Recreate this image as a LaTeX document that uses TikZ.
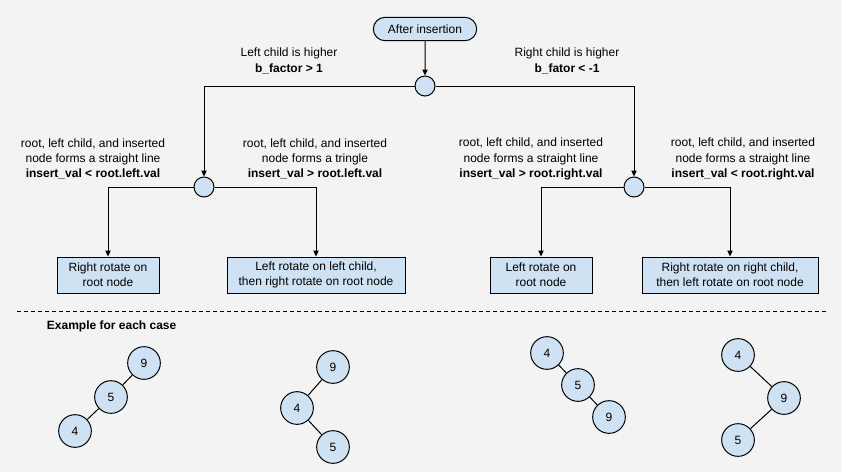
\documentclass[tikz,border=0pt]{standalone}
\usepackage{fontspec}
\setmainfont{Liberation Sans}
\usetikzlibrary{arrows.meta,shapes.misc}
\definecolor{boxblue}{HTML}{CFE2F3}
\definecolor{paper}{HTML}{F3F3F3}

\begin{document}
\begin{tikzpicture}[
  x=0.75pt, y=-0.75pt, line width=0.75pt,
  every node/.style={font=\fontsize{9}{11.5}\selectfont, align=center},
  start/.style={draw, rounded rectangle, fill=boxblue, minimum width=79.5pt, minimum height=17.5pt, inner sep=1pt},
  split/.style={draw, circle, fill=boxblue, minimum size=15pt, inner sep=0pt},
  act/.style={draw, fill=boxblue, minimum height=27pt, inner sep=1pt},
  key/.style={draw, circle, fill=boxblue, minimum size=24.5pt, inner sep=0pt},
  arr/.style={-{Triangle[length=4.5pt,width=4pt]}}
]
\fill[paper] (0,0) rectangle (841,472);
% decision part
\node[start] (ins) at (425,29) {After insertion};
\node[split] (bf) at (425,86) {};
\node (lcase) at (289,61) {Left child is higher\\\textbf{b\_factor > 1}};
\node (rcase) at (567,61) {Right child is higher\\\textbf{b\_fator < -1}};
\node[split] (lh) at (204,187) {};
\node[split] (rh) at (634,187) {};
\node (lltxt) at (93,159) {root, left child, and inserted\\node forms a straight line\\\textbf{insert\_val < root.left.val}};
\node (lrtxt) at (315,159) {root, left child, and inserted\\node forms a tringle\\\textbf{insert\_val > root.left.val}};
\node (rrtxt) at (531,159) {root, left child, and inserted\\node forms a straight line\\\textbf{insert\_val > root.right.val}};
\node (rltxt) at (743,159) {root, left child, and inserted\\node forms a straight line\\\textbf{insert\_val < root.right.val}};
% rotations
\node[act, minimum width=76.5pt] (ll) at (108,275) {Right rotate on\\root node};
\node[act, minimum width=133.5pt] (lr) at (316,275) {Left rotate on left child,\\then right rotate on root node};
\node[act, minimum width=76.5pt] (rr) at (541,275) {Left rotate on\\root node};
\node[act, minimum width=132pt] (rl) at (730,275) {Right rotate on right child,\\then left rotate on root node};
\draw[arr] (ins) -- (bf);
\draw[arr] (bf) -| (lh);
\draw[arr] (bf) -| (rh);
\draw[arr] (lh) -| (ll);
\draw[arr] (lh) -| (lr);
\draw[arr] (rh) -| (rr);
\draw[arr] (rh) -| (rl);
% examples
\draw[dash pattern=on 3pt off 2.25pt, line width=0.6pt] (17,311) -- (827,311);
\node[anchor=west, font=\fontsize{9}{11.5}\selectfont\bfseries] (ex) at (42,326) {Example for each case};
\node[key] (a9) at (144,363) {9};
\node[key] (a5) at (111,397) {5};
\node[key] (a4) at (75,431) {4};
\node[key] (b9) at (333,367) {9};
\node[key] (b4) at (297,408) {4};
\node[key] (b5) at (333,447) {5};
\node[key] (c4) at (547,353) {4};
\node[key] (c5) at (578,385) {5};
\node[key] (c9) at (609,417) {9};
\node[key] (d4) at (738,355) {4};
\node[key] (d9) at (784,398) {9};
\node[key] (d5) at (738,440) {5};
\draw (a9) -- (a5); \draw (a5) -- (a4);
\draw (b9) -- (b4); \draw (b4) -- (b5);
\draw (c4) -- (c5); \draw (c5) -- (c9);
\draw (d4) -- (d9); \draw (d9) -- (d5);
\end{tikzpicture}
\end{document}
